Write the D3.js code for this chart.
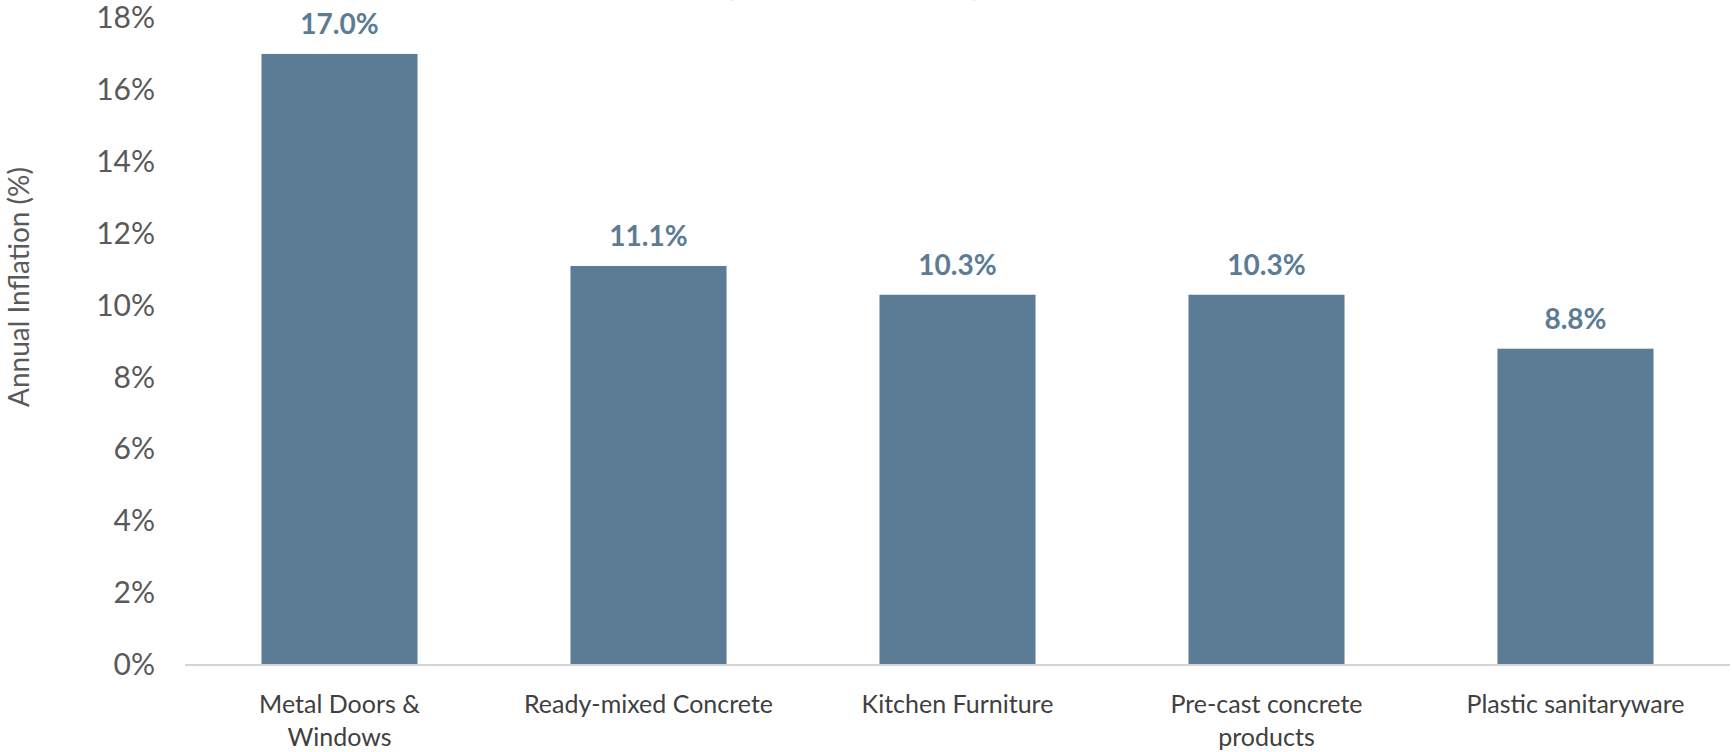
<!DOCTYPE html>
<html>
<head>
<meta charset="utf-8">
<script src="https://cdnjs.cloudflare.com/ajax/libs/d3/7.8.5/d3.min.js"></script>
<style>
  body { margin: 0; background: #fff; }
  svg { display: block; font-family: Lato, "Open Sans", sans-serif; }
</style>
</head>
<body>
<div id="chart"></div>
<script>
var categories = ["Metal Doors &\nWindows", "Ready-mixed Concrete", "Kitchen Furniture", "Pre-cast concrete\nproducts", "Plastic sanitaryware"]
var values = [17.0, 11.1, 10.3, 10.3, 8.8]
var yTicks = [0, 2, 4, 6, 8, 10, 12, 14, 16, 18]
var titleText = "(Year to June 2022)"
var yTitle = "Annual Inflation (%)"

var width = 1732
var height = 752
var margin = { top: 18, right: 2, bottom: 87, left: 185 }
var plotW = width - margin.left - margin.right
var plotH = height - margin.top - margin.bottom

var svg = d3.select("#chart")
    .append("svg")
    .attr("width", width)
    .attr("height", height)

// title sits mostly above the visible area, as in the cropped original
svg.append("text")
    .attr("x", 853)
    .attr("y", -4)
    .attr("text-anchor", "middle")
    .style("font-size", "30px")
    .style("fill", "#404040")
    .text(titleText)

var g = svg.append("g")
    .attr("transform", `translate(${margin.left}, ${margin.top})`)

var x = d3.scaleBand()
    .domain(categories)
    .range([0, plotW])
    .paddingInner(0.495)
    .paddingOuter(0.2475)

var y = d3.scaleLinear()
    .domain([0, 18])
    .range([plotH, 0])

// y axis labels
var yAxis = g.append("g")
    .call(d3.axisLeft(y).tickValues(yTicks).tickFormat(d => d + "%").tickSize(0).tickPadding(30))
yAxis.select(".domain").remove()
yAxis.selectAll("text")
    .style("font-family", "Lato, 'Open Sans', sans-serif")
    .style("font-size", "30px")
    .style("fill", "#595959")

// bars
g.selectAll("rect.bar")
    .data(values)
    .enter()
    .append("rect")
    .attr("class", "bar")
    .attr("x", (d, i) => x(categories[i]))
    .attr("y", d => y(d))
    .attr("width", x.bandwidth())
    .attr("height", d => plotH - y(d))
    .style("fill", "#5b7c94")

// baseline
g.append("line")
    .attr("x1", 0)
    .attr("x2", plotW)
    .attr("y1", plotH)
    .attr("y2", plotH)
    .style("stroke", "#d4d4d4")
    .style("stroke-width", 2)

// value labels
g.selectAll("text.val")
    .data(values)
    .enter()
    .append("text")
    .attr("class", "val")
    .attr("x", (d, i) => x(categories[i]) + x.bandwidth() / 2)
    .attr("y", d => y(d) - 20)
    .attr("text-anchor", "middle")
    .style("font-size", "28px")
    .style("font-weight", "bold")
    .style("fill", "#5b7c94")
    .text(d => d.toFixed(1) + "%")

// category labels
var cat = g.selectAll("text.cat")
    .data(categories)
    .enter()
    .append("text")
    .attr("class", "cat")
    .attr("x", d => x(d) + x.bandwidth() / 2)
    .attr("y", plotH + 48)
    .attr("text-anchor", "middle")
    .style("font-size", "25px")
    .style("fill", "#404040")

cat.selectAll("tspan")
    .data(d => d.split("\n"))
    .enter()
    .append("tspan")
    .attr("x", function () { return d3.select(this.parentNode).attr("x") })
    .attr("dy", (d, i) => i === 0 ? 0 : 33)
    .text(d => d)

// y axis title
svg.append("text")
    .attr("transform", "translate(29, 287) rotate(-90)")
    .attr("text-anchor", "middle")
    .style("font-size", "28px")
    .style("fill", "#595959")
    .text(yTitle)
</script>
</body>
</html>
